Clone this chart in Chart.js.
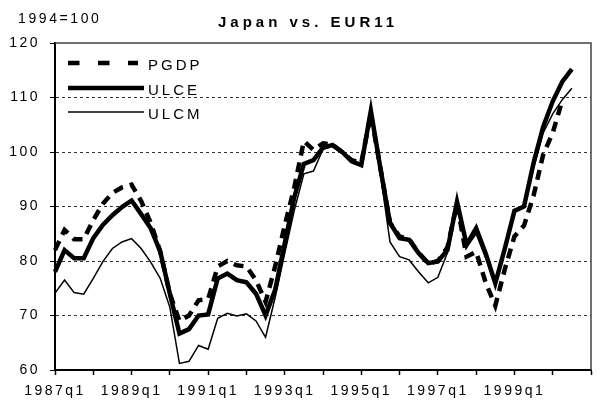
<!DOCTYPE html>
<html lang="en">
<head>
    <meta charset="UTF-8">
    <title>Japan vs. EUR11</title>
    <script src="https://cdn.jsdelivr.net/npm/chart.js"></script>
    <style>
        body {
            margin: 0;
            background: #fff;
        }
        #wrap {
            width: 599px;
            height: 404px;
        }
    </style>
</head>
<body>
    <div id="wrap">
        <canvas id="chart" width="599" height="404"></canvas>
    </div>

    <script>
        // Quarterly categories, 1987q1 .. 2001q1
        const startYear = 1987;
        const endYear = 2001;
        const quarters = [];
        for (let y = startYear; y <= endYear; y++) {
            for (let q = 1; q <= 4; q++) {
                if (y === endYear && q > 1) break;
                quarters.push(y + 'q' + q);
            }
        }

        // Labels printed under the axis
        const tickLabels = ['1987q1', '1989q1', '1991q1', '1993q1', '1995q1', '1997q1', '1999q1'];

        // Index, 1994 = 100
        const pgdp = [82, 85.7, 84, 84, 87.5, 90.5, 92.5, 93.5, 94, 91,
                      87, 81.7, 74, 69, 70, 72.8, 73, 79, 80, 79.2,
                      79, 76.5, 72.5, 79, 86.5, 93.5, 102, 100.4, 101.6, 101.3,
                      100, 98.5, 98, 107, 97, 87, 84.5, 84, 81.5, 79.5,
                      80, 82.5, 90.5, 80.8, 81.7, 76, 71.8, 78.5, 84.5, 86.5,
                      92, 99.5, 103.5, 109.5, null];

        const ulce = [78, 82, 80.5, 80.5, 84.2, 86.6, 88.4, 89.9, 91.1, 88.6,
                      86, 81.7, 74, 66.7, 67.5, 70, 70.2, 76.8, 77.7, 76.5,
                      76.1, 74, 70, 74.7, 83.2, 91.7, 97.8, 98.5, 100.8, 101.3,
                      100, 98.3, 97.6, 107.6, 97, 87, 84.2, 83.9, 81.4, 79.6,
                      79.9, 82, 90.9, 83, 86, 81.4, 75.9, 82.3, 89.2, 90,
                      98, 104.6, 109.3, 112.9, 115.2];

        const ulcm = [74.1, 76.5, 74.2, 73.9, 76.8, 79.9, 82.3, 83.5, 84.1, 82.3,
                      79.8, 76.8, 71.5, 61.2, 61.6, 64.5, 63.8, 69.5, 70.4, 69.9,
                      70.3, 69, 66, 73.3, 81.4, 89.3, 96, 96.5, 100.5, 101,
                      100, 98.3, 97.5, 107, 96, 83.5, 80.8, 80.2, 78, 76,
                      77, 81.5, 90.5, 82.5, 85, 80.5, 75.5, 82, 89, 90,
                      97, 103.5, 107, 109.6, 111.7];

        const FONT = 'Arial, "Liberation Sans", sans-serif';

        // Title, unit note, in-plot legend and the box border
        const decorations = {
            id: 'decorations',
            beforeLayout(chart) {
                chart.ctx.letterSpacing = '2.5px';
            },
            beforeDraw(chart) {
                chart.ctx.letterSpacing = '2.5px';
            },
            afterDraw(chart) {
                const ctx = chart.ctx;
                const area = chart.chartArea;
                ctx.save();

                // top and right border of plot box
                ctx.strokeStyle = '#444';
                ctx.lineWidth = 1.5;
                ctx.setLineDash([]);
                ctx.beginPath();
                ctx.moveTo(area.left, area.top);
                ctx.lineTo(area.right, area.top);
                ctx.lineTo(area.right, area.bottom);
                ctx.stroke();

                ctx.fillStyle = '#000';
                ctx.textBaseline = 'alphabetic';
                ctx.textAlign = 'left';

                ctx.font = 'bold 15px ' + FONT;
                ctx.letterSpacing = '4px';
                ctx.fillText('Japan vs. EUR11', 218, 27);

                ctx.font = '14px ' + FONT;
                ctx.letterSpacing = '2.6px';
                ctx.fillText('1994=100', 18, 23);

                // legend
                ctx.font = '15px ' + FONT;
                ctx.letterSpacing = '3px';
                const rows = [63, 88, 112];
                chart.data.datasets.forEach((ds, i) => {
                    const y = rows[i];
                    ctx.strokeStyle = ds.borderColor;
                    ctx.lineWidth = ds.borderWidth;
                    ctx.setLineDash(ds.borderDash && ds.borderDash.length ? [11.5, 18.5] : []);
                    ctx.beginPath();
                    ctx.moveTo(68, y);
                    ctx.lineTo(ds.borderDash && ds.borderDash.length ? 138 : 144, y);
                    ctx.stroke();
                    ctx.fillText(ds.label, 148, y + 7);
                });
                ctx.restore();
            }
        };

        const ctx = document.getElementById('chart').getContext('2d');
        const chart = new Chart(ctx, {
            type: 'line',
            data: {
                labels: quarters,
                datasets: [
                    {
                        label: 'PGDP',
                        data: pgdp,
                        borderColor: '#000',
                        borderWidth: 4.5,
                        borderDash: [10, 7],
                        pointRadius: 0,
                        tension: 0,
                        fill: false
                    },
                    {
                        label: 'ULCE',
                        data: ulce,
                        borderColor: '#000',
                        borderWidth: 4.5,
                        pointRadius: 0,
                        tension: 0,
                        fill: false
                    },
                    {
                        label: 'ULCM',
                        data: ulcm,
                        borderColor: '#000',
                        borderWidth: 1.5,
                        pointRadius: 0,
                        tension: 0,
                        fill: false
                    }
                ]
            },
            options: {
                responsive: false,
                animation: false,
                layout: {
                    padding: { top: 43, right: 6, left: 0, bottom: 0 }
                },
                plugins: {
                    legend: { display: false },
                    title: { display: false },
                    tooltip: { enabled: false }
                },
                scales: {
                    x: {
                        type: 'category',
                        offset: false,
                        afterFit(scale) { scale.height = 34; },
                        grid: {
                            drawOnChartArea: false,
                            drawTicks: true,
                            tickLength: 5,
                            tickWidth: 1.5,
                            tickColor: (c) => c.index % 4 === 0 ? '#000' : 'rgba(0,0,0,0)'
                        },
                        border: { display: true, color: '#000', width: 2 },
                        ticks: {
                            autoSkip: false,
                            maxRotation: 0,
                            minRotation: 0,
                            padding: 8,
                            color: '#000',
                            font: { family: FONT, size: 14 },
                            callback: function (value, index) {
                                const lbl = this.getLabelForValue(value);
                                return tickLabels.includes(lbl) ? lbl : '';
                            }
                        }
                    },
                    y: {
                        min: 60,
                        max: 120,
                        afterFit(scale) { scale.width = 55; },
                        grid: {
                            color: (c) => (c.tick && (c.tick.value === 60 || c.tick.value === 120)) ? 'rgba(0,0,0,0)' : '#333',
                            lineWidth: 1,
                            drawTicks: true,
                            tickLength: 5,
                            tickColor: '#000'
                        },
                        border: { display: true, color: '#000', width: 2, dash: [3, 3] },
                        ticks: {
                            stepSize: 10,
                            padding: 10,
                            color: '#000',
                            font: { family: FONT, size: 14 }
                        }
                    }
                }
            },
            plugins: [decorations]
        });
    </script>
</body>
</html>
